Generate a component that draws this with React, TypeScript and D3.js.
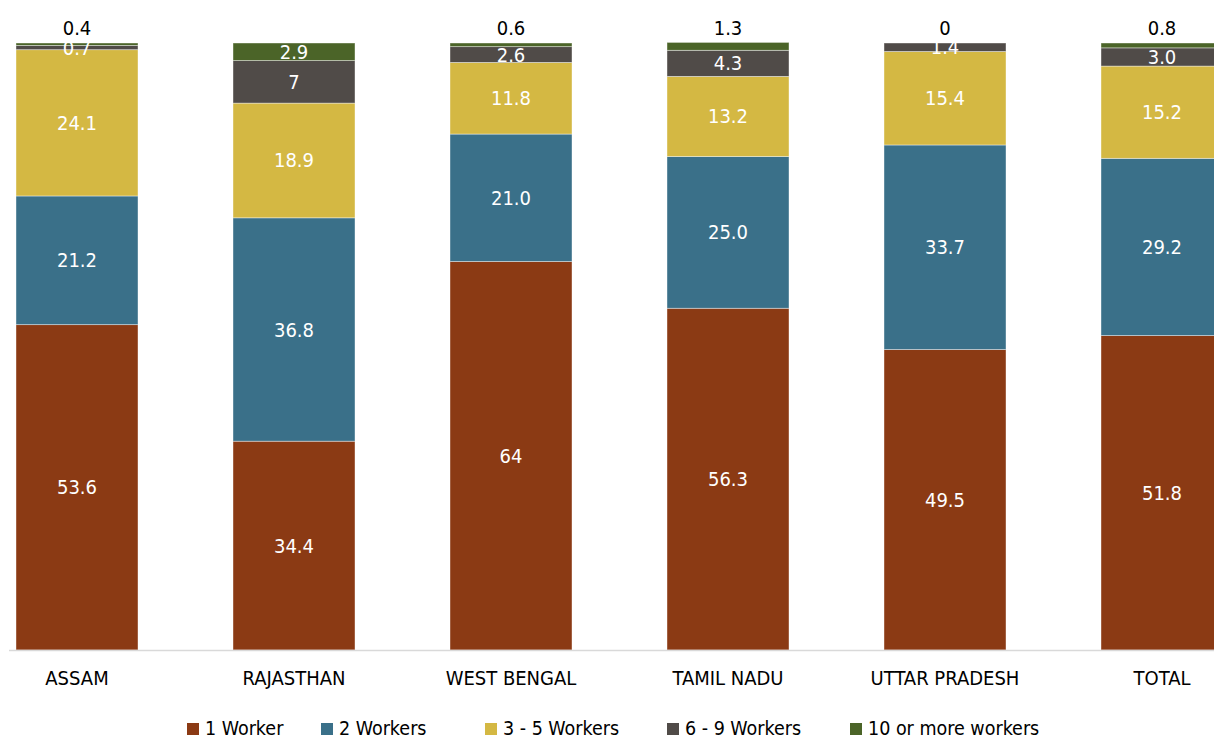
import React from "react";
import * as d3 from "d3";

const categories = ["ASSAM", "RAJASTHAN", "WEST BENGAL", "TAMIL NADU", "UTTAR PRADESH", "TOTAL"];
const seriesNames = ["1 Worker", "2 Workers", "3 - 5 Workers", "6 - 9 Workers", "10 or more workers"];
const worker1 = ["53.6", "34.4", "64", "56.3", "49.5", "51.8"];
const workers2 = ["21.2", "36.8", "21.0", "25.0", "33.7", "29.2"];
const workers3to5 = ["24.1", "18.9", "11.8", "13.2", "15.4", "15.2"];
const workers6to9 = ["0.7", "7", "2.6", "4.3", "1.4", "3.0"];
const workers10plus = ["0.4", "2.9", "0.6", "1.3", "0", "0.8"];
const colors = ["#8B3A14", "#3A7089", "#D4B843", "#504B48", "#4B6428"];

const series = [worker1, workers2, workers3to5, workers6to9, workers10plus];

const W = 1214;
const H = 740;
const FONT = "'DejaVu Sans', sans-serif";

export default function App() {
  const x = d3.scaleBand<string>().domain(categories).range([16, 1223]).paddingInner(0.4378).paddingOuter(0);
  const y = d3.scaleLinear().domain([0, 100]).range([650, 43]);

  const rows = categories.map((c, i) => {
    const r: any = { cat: c };
    seriesNames.forEach((s, k) => (r[s] = +series[k][i]));
    return r;
  });
  const stacked = d3.stack<any>().keys(seriesNames)(rows);
  const bw = x.bandwidth();

  const legendX = [187, 321, 485, 667, 850];
  const txt = { fontStretch: "condensed" as const };

  return (
    <svg width={W} height={H} style={{ position: "absolute", left: 0, top: 0, fontFamily: FONT }}>
      <rect width={W} height={H} fill="#fff" />
      {stacked.map((layer, k) => (
        <g key={k}>
          {layer.map((d, i) => (
            <rect
              key={i}
              x={x(categories[i])!}
              y={y(d[1])}
              width={bw}
              height={Math.max(0, y(d[0]) - y(d[1]))}
              fill={colors[k]}
              stroke="#fff"
              strokeOpacity={0.5}
              strokeWidth={0.8}
            />
          ))}
        </g>
      ))}
      <line x1={9} x2={W} y1={650.5} y2={650.5} stroke="#d9d9d9" strokeWidth={1.5} />
      {stacked.map((layer, k) => (
        <g key={"l" + k}>
          {layer.map((d, i) => {
            const cx = x(categories[i])! + bw / 2;
            const v = +series[k][i];
            const above = k === seriesNames.length - 1 && v < 2;
            const cy = above ? 28 : (y(d[0]) + y(d[1])) / 2;
            return (
              <text
                key={i}
                x={cx}
                y={cy}
                dy="0.35em"
                textAnchor="middle"
                fontSize={20}
                style={txt}
                fill={above ? "#000" : "#fff"}
              >
                {series[k][i]}
              </text>
            );
          })}
        </g>
      ))}
      {categories.map((c) => (
        <text key={c} x={x(c)! + bw / 2} y={678} dy="0.35em" textAnchor="middle" fontSize={20} style={txt} fill="#000">
          {c}
        </text>
      ))}
      {seriesNames.map((s, k) => (
        <g key={s} transform={`translate(${legendX[k]},729)`}>
          <rect x={0} y={-6} width={12} height={12} fill={colors[k]} />
          <text x={18} y={0} dy="0.33em" fontSize={19.5} style={txt} fill="#000">
            {s}
          </text>
        </g>
      ))}
    </svg>
  );
}
